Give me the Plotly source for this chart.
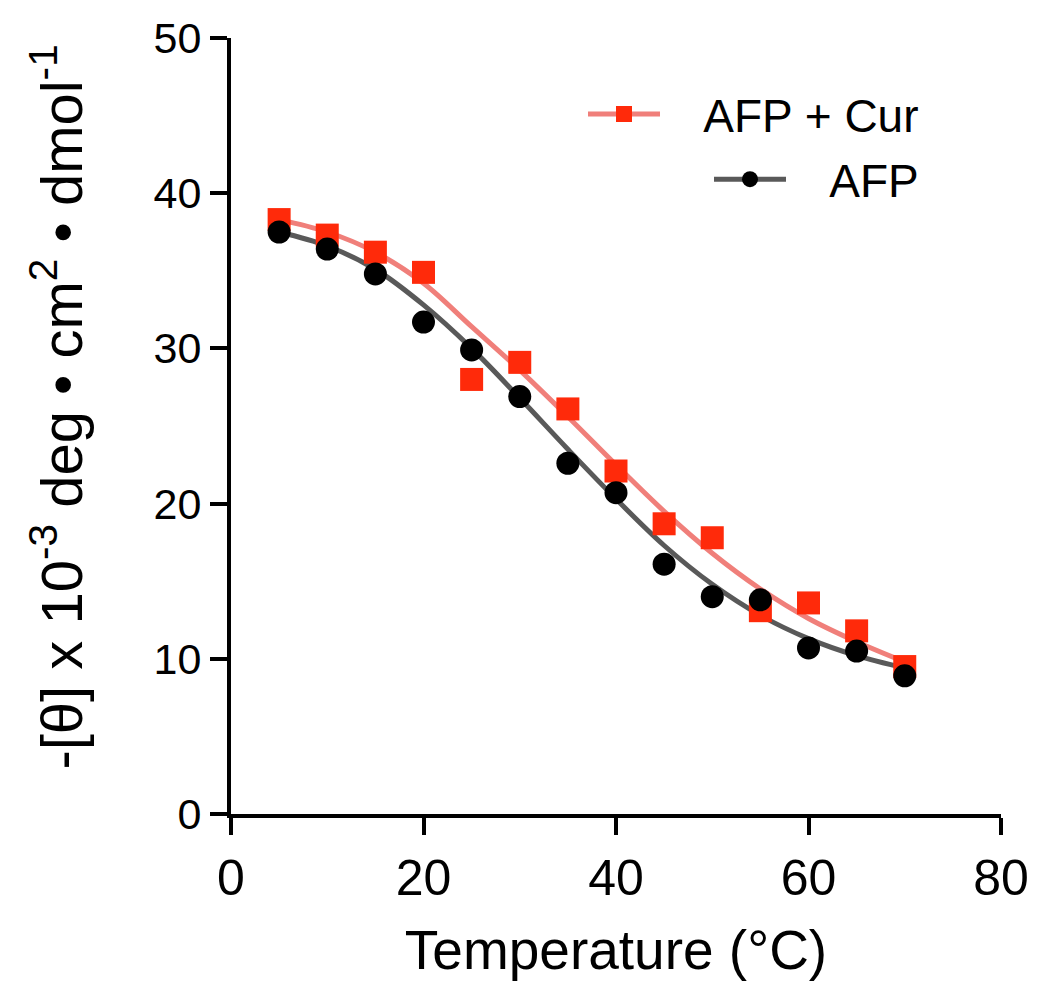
import plotly.graph_objects as go

# Data
temps = [5, 10, 15, 20, 25, 30, 35, 40, 45, 50, 55, 60, 65, 70]
afp_cur = [38.3, 37.3, 36.2, 34.9, 28.0, 29.1, 26.1, 22.1, 18.7, 17.8, 13.1, 13.6, 11.8, 9.5]
afp = [37.5, 36.4, 34.8, 31.7, 29.9, 26.9, 22.6, 20.7, 16.1, 14.0, 13.8, 10.7, 10.5, 8.9]

# Fitted curves
fit_x = [5, 10, 15, 20, 25, 30, 35, 40, 45, 50, 55, 60, 65, 70]
fit_afp_cur = [38.3, 37.5, 36.2, 34.2, 31.4, 28.6, 25.6, 22.5, 19.5, 16.8, 14.5, 12.6, 11.1, 9.8]
fit_afp = [37.5, 36.6, 35.1, 32.8, 30.0, 26.8, 23.5, 20.3, 17.3, 14.8, 12.8, 11.3, 10.2, 9.4]

x_ticks = [0, 20, 40, 60, 80]
y_ticks = [0, 10, 20, 30, 40, 50]

RED = "#FF2A0A"
RED_LINE = "#F07F7A"
BLACK = "#000000"
GRAY_LINE = "#595959"
FONT = "Liberation Sans, Arial, Helvetica, sans-serif"
NB = "\u00a0"

fig = go.Figure()

fig.add_trace(go.Scatter(x=fit_x, y=fit_afp_cur, mode="lines", line=dict(color=RED_LINE, width=5, shape="spline"),
                         showlegend=False, hoverinfo="skip"))
fig.add_trace(go.Scatter(x=fit_x, y=fit_afp, mode="lines", line=dict(color=GRAY_LINE, width=5, shape="spline"),
                         showlegend=False, hoverinfo="skip"))
fig.add_trace(go.Scatter(x=temps, y=afp_cur, mode="markers",
                         marker=dict(symbol="square", size=23, color=RED), showlegend=False))
fig.add_trace(go.Scatter(x=temps, y=afp, mode="markers",
                         marker=dict(symbol="circle", size=23, color=BLACK), showlegend=False))

# legend entries
fig.add_trace(go.Scatter(x=[None], y=[None], mode="lines+markers", name=NB * 3 + "AFP + Cur",
                         line=dict(color=RED_LINE, width=5),
                         marker=dict(symbol="square", size=23, color=RED), legend="legend"))
fig.add_trace(go.Scatter(x=[None], y=[None], mode="lines+markers", name=NB * 3 + "AFP",
                         line=dict(color=GRAY_LINE, width=5),
                         marker=dict(symbol="circle", size=23, color=BLACK), legend="legend2"))

fig.update_layout(
    width=1041, height=983,
    margin=dict(l=231, r=32, t=38, b=166),
    paper_bgcolor="white", plot_bgcolor="white",
    font=dict(family=FONT, color="black"),
    legend=dict(x=0.9, y=0.902, xanchor="right", yanchor="middle", font=dict(size=46),
                bgcolor="rgba(0,0,0,0)", itemwidth=72),
    legend2=dict(x=0.9, y=0.818, xanchor="right", yanchor="middle", font=dict(size=46),
                 bgcolor="rgba(0,0,0,0)", itemwidth=72),
    xaxis=dict(range=[0, 80], tickvals=x_ticks, ticks="outside", ticklen=17, tickwidth=4,
               tickcolor="black", showline=True, linecolor="black", linewidth=4,
               showgrid=False, zeroline=False, tickfont=dict(size=50),
               title=dict(text="Temperature (°C)", font=dict(size=55), standoff=26)),
    yaxis=dict(range=[0, 50], tickvals=y_ticks, ticks="outside", ticklen=17, tickwidth=4,
               tickcolor="black", showline=True, linecolor="black", linewidth=4,
               showgrid=False, zeroline=False, tickfont=dict(size=43)),
    annotations=[dict(text="-[θ] x 10<sup>-3</sup> deg • cm<sup>2</sup> • dmol<sup>-1</sup>",
                      xref="paper", yref="paper", x=-0.226, y=0.525, xanchor="center", yanchor="middle",
                      textangle=-90, showarrow=False, font=dict(size=58))],
)

fig.write_html("out.html")
